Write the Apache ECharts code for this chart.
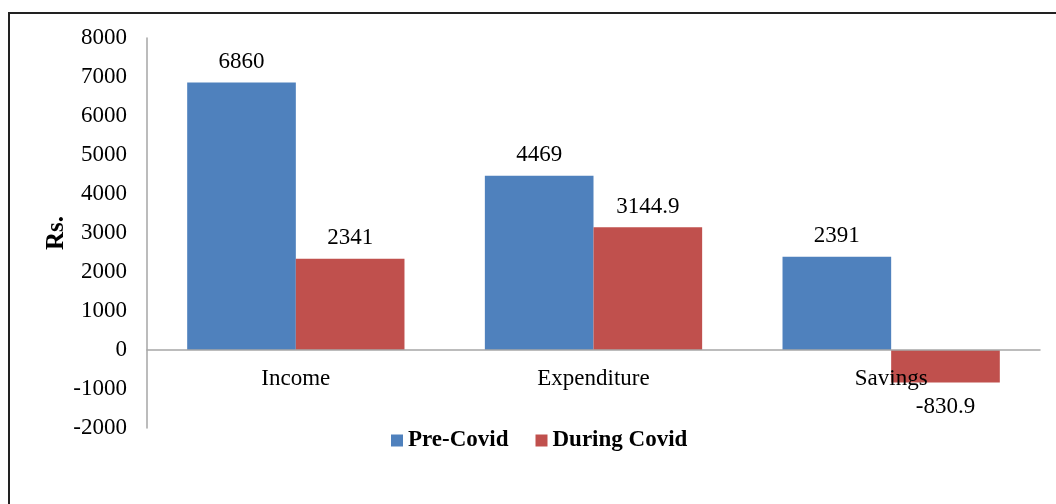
<!DOCTYPE html>
<html>
<head>
<meta charset="utf-8">
<script src="https://cdn.jsdelivr.net/npm/echarts@6/dist/echarts.min.js"></script>
<style>
  html, body { margin: 0; padding: 0; background: #fff; }
  #frame { position: absolute; left: 8px; top: 12px; width: 1060px; height: 500px;
           border-left: 2px solid #222; border-top: 2px solid #222; }
  #main { position: absolute; left: 0; top: 0; width: 1056px; height: 504px; }
</style>
</head>
<body>
<div id="frame"></div>
<div id="main"></div>
<script>
// data
const categories = ['Income', 'Expenditure', 'Savings'];
const preCovid = [6860, 4469, 2391];
const duringCovid = [2341, 3144.9, -830.9];
const seriesNames = ['Pre-Covid', 'During Covid'];

const serif = '"Liberation Serif", "Times New Roman", serif';

// negative bars get their label underneath
function withLabels(values) {
  return values.map(v => ({
    value: v,
    label: { position: v < 0 ? 'bottom' : 'top', distance: v < 0 ? 13 : 9 }
  }));
}

let myChart = echarts.init(document.getElementById('main'));
myChart.setOption({
  animation: false,
  textStyle: { fontFamily: serif },
  grid: { left: 147, right: 16, top: 38, bottom: 76 },
  legend: {
    top: 424,
    left: 386,
    itemWidth: 12,
    itemHeight: 12,
    itemGap: 27,
    icon: 'rect',
    textStyle: { fontFamily: serif, fontSize: 23, fontWeight: 'bold', color: '#000' },
    data: seriesNames
  },
  xAxis: {
    type: 'category',
    data: categories,
    z: 5,
    // zero line sits 2000 units (78px) above the bottom of the grid
    offset: -78,
    axisLine: { onZero: false, lineStyle: { color: '#a6a6a6', width: 1.5 } },
    axisTick: { show: false },
    axisLabel: { fontFamily: serif, fontSize: 23, color: '#000', margin: 17 }
  },
  yAxis: {
    type: 'value',
    min: -2000,
    max: 8000,
    interval: 1000,
    name: 'Rs.',
    nameLocation: 'middle',
    nameGap: 78,
    nameMoveOverlap: false,
    nameTextStyle: { fontFamily: serif, fontSize: 25, fontWeight: 'bold', color: '#000' },
    axisLine: { show: true, lineStyle: { color: '#a6a6a6', width: 1.5 } },
    axisTick: { show: false },
    splitLine: { show: false },
    axisLabel: { fontFamily: serif, fontSize: 23, color: '#000', margin: 20, formatter: v => String(v) }
  },
  series: [
    {
      name: seriesNames[0],
      type: 'bar',
      data: withLabels(preCovid),
      barGap: '0%',
      barCategoryGap: '27%',
      itemStyle: { color: '#4f81bd' },
      label: { show: true, fontFamily: serif, fontSize: 23, color: '#000' }
    },
    {
      name: seriesNames[1],
      type: 'bar',
      data: withLabels(duringCovid),
      barGap: '0%',
      barCategoryGap: '27%',
      itemStyle: { color: '#c0504d' },
      label: { show: true, fontFamily: serif, fontSize: 23, color: '#000' }
    }
  ]
});
</script>
</body>
</html>
